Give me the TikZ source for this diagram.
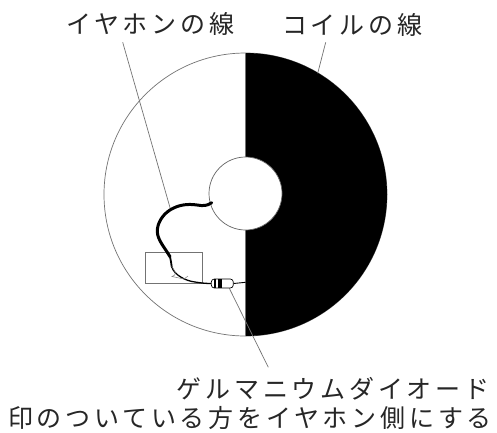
\documentclass[tikz,border=0pt]{standalone}
\usepackage{fontspec}
\newfontfamily\cjk[LetterSpace=15]{Noto Sans CJK JP}
\begin{document}
\begin{tikzpicture}[x=1pt,y=-1pt,
  lbl/.style={inner sep=0pt,font=\cjk\fontsize{25}{25}\selectfont,text=black!85},
  leader/.style={draw=black!55,line width=0.7pt},
  thin outline/.style={draw=black!55,line width=0.7pt},
  wire/.style={line width=3pt,line cap=round,line join=round,draw=black}]
\useasboundingbox (0,0) rectangle (497,432);
\fill[white] (0,0) rectangle (497,432);
% disc
\coordinate (c) at (245.5,194.5);
\draw[thin outline,fill=white] (c) circle[radius=141.5];
\fill[black] (245.5,53) arc[start angle=-90,end angle=90,radius=141.5] -- cycle;
\node[circle,minimum size=73pt,inner sep=0pt,draw=black!60,line width=0.7pt,fill=white] (hole) at (245.5,193.5) {};
\draw[thin outline] (245.5,53) -- (hole.north);
\draw[thin outline] (hole.south) -- (245.5,336);
% box
\node[draw=black!55,line width=0.7pt,minimum width=57.4pt,minimum height=31pt,inner sep=0pt] (box) at (174,267.8) {};
% labels
\node[lbl] (earlabel) at (150,24) {イヤホンの線};
\node[lbl] (coillabel) at (352,25) {コイルの線};
\node[lbl] (diodelabel) at (333,388.5) {ゲルマニウムダイオード};
\node[lbl] (notelabel) at (250,418) {印のついている方をイヤホン側にする};
% leaders
\coordinate (earA) at (122.7,42.3);
\coordinate (earB) at (170.7,210);
\coordinate (coilA) at (325.7,42.3);
\coordinate (coilB) at (317.7,73.3);
\coordinate (diodeA) at (229.3,288.3);
\coordinate (diodeB) at (268.3,367.3);
\draw[leader] (earA) -- (earB);
\draw[leader] (coilA) -- (coilB);
\draw[leader] (diodeA) -- (diodeB);
% thick wire
\coordinate (w0) at (211.7,202.7);
\coordinate (w9) at (171.7,266.7);
\draw[wire] (w0) .. controls (207,206) and (203,206) .. (197,205)
  .. controls (187,203.5) and (178,205) .. (170,210)
  .. controls (162,215) and (157,224) .. (157.3,231.7)
  .. controls (157.5,240) and (165,248) .. (170,256.7);
\draw[line width=1.8pt,line cap=round] (170,256.7) .. controls (171,260) and (171,263) .. (w9);
% thin wire
\node[draw=black,line width=0.7pt,fill=white,rounded corners=3pt,minimum width=22pt,minimum height=9pt,inner sep=0pt] (diode) at (222.3,283.5) {};
\draw[line width=1.3pt] (w9) .. controls (174,275) and (186,281) .. (195,282) .. controls (201,283) and (206,283.5) .. (diode.west);
\draw[black!50,line width=0.5pt] (171.7,266) .. controls (175,272) and (178,274) .. (172,276.5) -- (184,279) -- (188,276);
\draw[line width=0.9pt] (diode.east) -- (245.5,282.3);
% diode bands
\fill[black] (214,279.2) rectangle (216,287.8);
\fill[black] (217.5,279.2) rectangle (221.5,287.8);
\end{tikzpicture}
\end{document}
